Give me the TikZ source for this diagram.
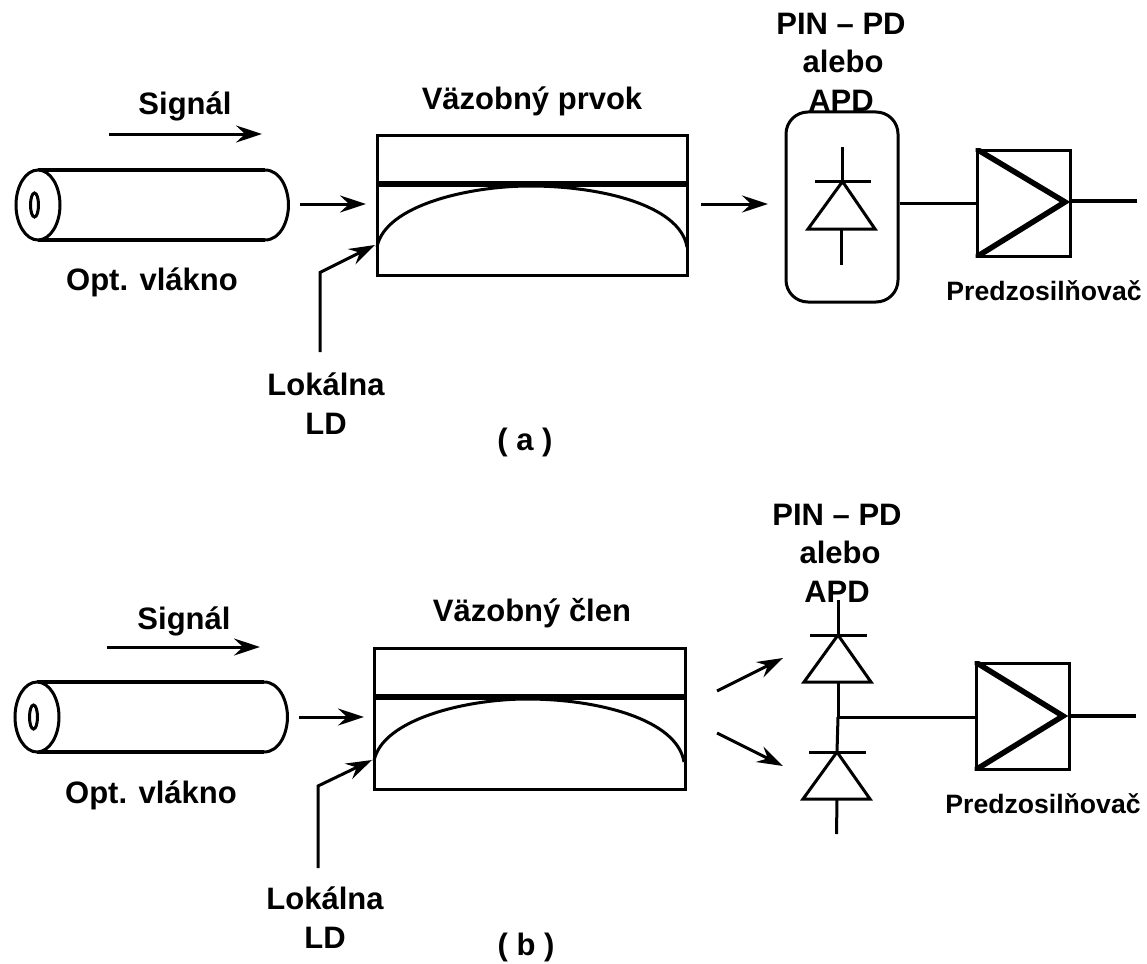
\documentclass[tikz,border=0pt]{standalone}
\usepackage{fontspec}
\setmainfont{Liberation Sans}
\usetikzlibrary{arrows.meta}
\tikzset{
  thin line/.style={line width=3pt},
  thick line/.style={line width=4.5pt},
  heavy line/.style={line width=5.5pt},
  arrow line/.style={line width=3pt,-{Stealth[length=26pt,width=17pt,inset=9pt]}},
  lab/.style={font=\bfseries\fontsize{31}{38}\selectfont,anchor=base,inner sep=0pt,align=center},
  smalllab/.style={font=\bfseries\fontsize{26.6}{32}\selectfont,anchor=base,inner sep=0pt},
  box/.style={draw,line width=3pt,inner sep=0pt,minimum width=#1},
}
\begin{document}
\begin{tikzpicture}[x=1pt,y=-1pt]
\useasboundingbox (0,0) rectangle (1147,963);
% ---------- (a) ----------
\node[lab] (pina) at (841,35) {PIN – PD};
\node[lab] (aleboa) at (843,73) {alebo};
\node[lab] (apda) at (841,111) {APD};
\node[lab] (siga) at (185,114) {Signál};
\node[lab] (vaza) at (532,110) {Väzobný prvok};
\node[lab] (opta) at (152,290) {Opt. vlákno};
\node[lab] (loka) at (326,395) {Lokálna};
\node[lab] (lda) at (326,434) {LD};
\node[lab] (capa) at (525,450) {( a )};
\node[smalllab] (prea) at (1044,300) {Predzosilňovač};
% fibre
\draw[thick line] (38,170) -- (265,170);
\draw[thick line] (38,240) -- (265,240);
\draw[thin line] (265,170) .. controls (281,170) and (288.5,190) .. (288.5,205) .. controls (288.5,220) and (281,240) .. (265,240);
\draw[thin line,fill=white] (38,205) ellipse [x radius=22,y radius=35];
\draw[thin line] (34.5,205) ellipse [x radius=4,y radius=12];
\coordinate (sa1) at (109,134); \coordinate (sa2) at (262,134);
\draw[arrow line] (sa1) -- (sa2);
\coordinate (fa) at (300,204); \coordinate (ca) at (366,204);
\draw[arrow line] (fa) -- (ca);
% coupler
\node[box=310pt,minimum height=140pt] (cpa) at (532,205) {};
\draw[heavy line] (cpa.west |- 0,184) -- (cpa.east |- 0,184);
\draw[thin line] (377,247) .. controls (385,205) and (470,186) .. (530,186) .. controls (600,186) and (680,205) .. (687,247);
\coordinate (la1) at (320,352); \coordinate (la2) at (320,272.5); \coordinate (la3) at (375,245);
\draw[arrow line,line join=miter] (la1) -- (la2) -- (la3);
\coordinate (oa) at (701,204); \coordinate (da) at (768,204);
\draw[arrow line] (oa) -- (da);
% detector
\node[box=112pt,minimum height=190pt,rounded corners=22pt,fill=white] (pda) at (842,207) {};
\coordinate (a1) at (842.5,147); \coordinate (a2) at (842.5,181.5); \coordinate (a3) at (841.7,229); \coordinate (a4) at (841.7,265);
\draw[thin line] (a1) -- (a2);
\draw[thin line] (a3) -- (a4);
\draw[thin line] (815,181.5) -- (871,181.5);
\draw[thin line] (a2) -- (875,229) -- (808,229) -- cycle;
% amplifier
\node[box=93pt,minimum height=106pt] (ampa) at (1023.5,203) {};
\coordinate (outa) at (1137,201); \coordinate (tipa) at (1065,202);
\begin{scope}
\clip (ampa.north west) rectangle ([xshift=6pt]ampa.south east);
\draw[heavy line,line join=miter] (ampa.north west) -- (tipa) -- (ampa.south west);
\end{scope}
\draw[thick line] (ampa.east |- outa) -- (outa);
\draw[thin line] (pda.east |- ampa.west) -- (ampa.west);
% ---------- (b) ----------
\node[lab] (pinb) at (837,525) {PIN – PD};
\node[lab] (alebob) at (840,563) {alebo};
\node[lab] (apdb) at (837,602) {APD};
\node[lab] (sigb) at (184,629) {Signál};
\node[lab] (vazb) at (532,621) {Väzobný člen};
\node[lab] (optb) at (151,803) {Opt. vlákno};
\node[lab] (lokb) at (325,909) {Lokálna};
\node[lab] (ldb) at (325,948) {LD};
\node[lab] (capb) at (526,955) {( b )};
\node[smalllab] (preb) at (1043,813) {Predzosilňovač};
% fibre
\draw[thick line] (37,682) -- (264,682);
\draw[thick line] (37,752) -- (264,752);
\draw[thin line] (264,682) .. controls (280,682) and (287.5,702) .. (287.5,717) .. controls (287.5,732) and (280,752) .. (264,752);
\draw[thin line,fill=white] (37,717) ellipse [x radius=22,y radius=35];
\draw[thin line] (33.5,717) ellipse [x radius=4,y radius=12];
\coordinate (sb1) at (107,647); \coordinate (sb2) at (260,647);
\draw[arrow line] (sb1) -- (sb2);
\coordinate (fb) at (299,717); \coordinate (cb) at (364,717);
\draw[arrow line] (fb) -- (cb);
% coupler
\node[box=311pt,minimum height=141pt] (cpb) at (529.5,718.5) {};
\draw[heavy line] (cpb.west |- 0,697) -- (cpb.east |- 0,697);
\draw[thin line] (374,761) .. controls (382,719) and (467,699) .. (527,699) .. controls (597,699) and (677,719) .. (684,762);
\coordinate (lb1) at (318,868); \coordinate (lb2) at (318,786); \coordinate (lb3) at (372,760);
\draw[arrow line,line join=miter] (lb1) -- (lb2) -- (lb3);
\coordinate (ob1) at (717,691); \coordinate (db1) at (783,658);
\coordinate (ob2) at (717,733); \coordinate (db2) at (783,766);
\draw[arrow line] (ob1) -- (db1);
\draw[arrow line] (ob2) -- (db2);
% detectors
\coordinate (b1) at (838,600); \coordinate (b2) at (838,635); \coordinate (b3) at (838,682); \coordinate (j) at (838,717);
\coordinate (b4) at (837,752); \coordinate (b5) at (837,799); \coordinate (b6) at (836.5,834);
\draw[thin line] (b1) -- (b2);
\draw[thin line] (810,635) -- (867,635);
\draw[thin line] (b2) -- (871,682) -- (804,682) -- cycle;
\draw[thin line] (b3) -- (j);
\draw[thin line] (j) -- (b4);
\draw[thin line] (809,752) -- (866,752);
\draw[thin line] (b4) -- (870,799) -- (803,799) -- cycle;
\draw[thin line] (b5) -- (b6);
% amplifier
\node[box=93pt,minimum height=106pt] (ampb) at (1022.5,716) {};
\coordinate (outb) at (1136,716); \coordinate (tipb) at (1063,716);
\begin{scope}
\clip (ampb.north west) rectangle ([xshift=6pt]ampb.south east);
\draw[heavy line,line join=miter] (ampb.north west) -- (tipb) -- (ampb.south west);
\end{scope}
\draw[thick line] (ampb.east |- outb) -- (outb);
\draw[thin line] (j) -- (j -| ampb.west);
\end{tikzpicture}
\end{document}
